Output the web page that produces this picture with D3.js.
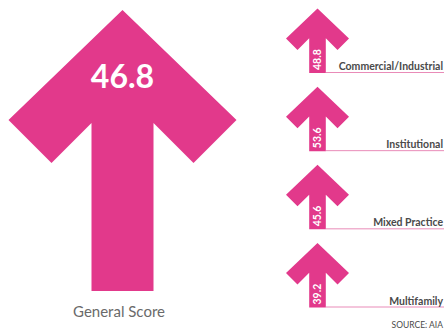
<!DOCTYPE html>
<html>
<head>
<meta charset="utf-8">
<script src="https://cdn.jsdelivr.net/npm/d3@7"></script>
<style>
  html, body { margin: 0; padding: 0; background: #fff; }
  svg { display: block; }
</style>
</head>
<body>
<svg id="chart" width="444" height="331"></svg>
<script>
// Scores by firm type
const generalLabel = "General Score";
const generalValue = 46.8;
const categories = ["Commercial/Industrial", "Institutional", "Mixed Practice", "Multifamily"];
const values = [48.8, 53.6, 45.6, 39.2];
const sourceText = "SOURCE: AIA";

const W = 444, H = 331;
const pink = "#e2398b";
const svg = d3.select("#chart");

// Arrow outline: head with 45° barbs on a straight shaft
function arrowPath(cx, tipY, bottomY, hw, hh, bt, sw) {
  const barbY = tipY + hh + bt;
  const jointY = barbY - (hw - bt - sw);
  const p = d3.path();
  p.moveTo(cx, tipY);
  p.lineTo(cx + hw, tipY + hh);
  p.lineTo(cx + hw - bt, barbY);
  p.lineTo(cx + sw, jointY);
  p.lineTo(cx + sw, bottomY);
  p.lineTo(cx - sw, bottomY);
  p.lineTo(cx - sw, jointY);
  p.lineTo(cx - hw + bt, barbY);
  p.lineTo(cx - hw, tipY + hh);
  p.closePath();
  return p.toString();
}

// Large arrow for the overall score
const big = { cx: 122.5, tip: 10, bottom: 291, hw: 114, hh: 110, bt: 43, sw: 31 };
svg.append("path")
  .attr("d", arrowPath(big.cx, big.tip, big.bottom, big.hw, big.hh, big.bt, big.sw))
  .attr("fill", pink);

svg.append("text")
  .attr("x", big.cx)
  .attr("y", 88)
  .attr("text-anchor", "middle")
  .attr("font-family", "Lato, 'Open Sans', sans-serif")
  .attr("font-weight", 700)
  .attr("font-size", 32)
  .attr("fill", "#fff")
  .text(generalValue.toFixed(1));

svg.append("text")
  .attr("x", 119)
  .attr("y", 316.5)
  .attr("text-anchor", "middle")
  .attr("font-family", "Lato, 'Open Sans', sans-serif")
  .attr("font-size", 15)
  .attr("fill", "#6a6a6a")
  .text(generalLabel);

// Small arrows, one row per category; y gives each row's baseline
const y = d3.scalePoint()
  .domain(categories)
  .range([73, 307.5]);

const small = { cx: 317.5, height: 64.5, hw: 31.5, hh: 30, bt: 11.5, sw: 8.3 };

const rows = svg.selectAll("g.row")
  .data(categories.map((c, i) => ({ cat: c, val: values[i] })))
  .join("g")
  .attr("class", "row");

rows.append("line")
  .attr("x1", small.cx + small.sw)
  .attr("x2", W)
  .attr("y1", d => y(d.cat) - 0.5)
  .attr("y2", d => y(d.cat) - 0.5)
  .attr("stroke", "#e98bb8")
  .attr("stroke-width", 1);

rows.append("path")
  .attr("d", d => arrowPath(small.cx, y(d.cat) - small.height, y(d.cat),
                            small.hw, small.hh, small.bt, small.sw))
  .attr("fill", pink);

rows.append("text")
  .attr("transform", d => `translate(${small.cx + 3.6},${y(d.cat) - 3}) rotate(-90)`)
  .attr("font-family", "Lato, 'Open Sans', sans-serif")
  .attr("font-weight", 700)
  .attr("font-size", 10.5)
  .attr("fill", "#fff")
  .text(d => d.val.toFixed(1));

rows.append("text")
  .attr("x", 443)
  .attr("y", d => y(d.cat) - 3)
  .attr("text-anchor", "end")
  .attr("font-family", "Lato, 'Open Sans', sans-serif")
  .attr("font-weight", 700)
  .attr("font-size", 10.5)
  .attr("fill", "#4a4a4a")
  .text(d => d.cat);

svg.append("text")
  .attr("x", 443)
  .attr("y", 328)
  .attr("text-anchor", "end")
  .attr("font-family", "Lato, 'Open Sans', sans-serif")
  .attr("font-size", 8.5)
  .attr("fill", "#4a4a4a")
  .text(sourceText);
</script>
</body>
</html>
